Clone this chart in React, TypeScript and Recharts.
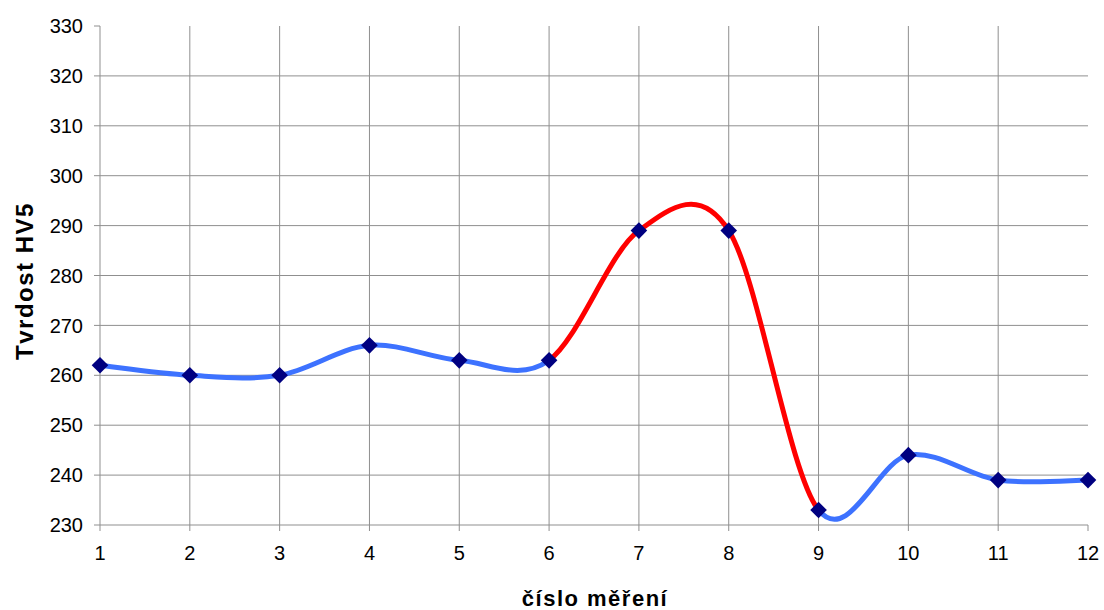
import { CartesianGrid, Label, Line, LineChart, XAxis, YAxis } from 'recharts'

// measured hardness per measurement number
const measurements = [1, 2, 3, 4, 5, 6, 7, 8, 9, 10, 11, 12]
const hardness = [262, 260, 260, 266, 263, 263, 289, 289, 233, 244, 239, 239]
const yTicks = [230, 240, 250, 260, 270, 280, 290, 300, 310, 320, 330]
// part of the curve drawn in red (from measurement .. to measurement)
const highlightFrom = 6
const highlightTo = 9

const data = measurements.map((m, i) => ({ m, hv: hardness[i] }))

const font = '"Liberation Sans", Arial, sans-serif'
const gridColor = '#8f8f8f'

// Excel-like smoothed line (Catmull-Rom as cubic bezier), only drawing the segments that pass the filter
const smoothCurve = (drawSegment: (i: number) => boolean) => (context: any) => {
    let pts: number[][] = []
    return {
        areaStart() {},
        areaEnd() {},
        lineStart() {
            pts = []
        },
        point(x: number, y: number) {
            pts.push([+x, +y])
        },
        lineEnd() {
            const n = pts.length
            let moved = false
            for (let i = 0; i < n - 1; i++) {
                if (!drawSegment(i)) {
                    moved = false
                    continue
                }
                const p0 = pts[Math.max(i - 1, 0)]
                const p1 = pts[i]
                const p2 = pts[i + 1]
                const p3 = pts[Math.min(i + 2, n - 1)]
                if (!moved) {
                    context.moveTo(p1[0], p1[1])
                    moved = true
                }
                context.bezierCurveTo(
                    p1[0] + (p2[0] - p0[0]) / 6,
                    p1[1] + (p2[1] - p0[1]) / 6,
                    p2[0] - (p3[0] - p1[0]) / 6,
                    p2[1] - (p3[1] - p1[1]) / 6,
                    p2[0],
                    p2[1]
                )
            }
        }
    }
}

const inHighlight = (i: number) => measurements[i] >= highlightFrom && measurements[i + 1] <= highlightTo
const blueCurve = smoothCurve((i) => !inHighlight(i))
const redCurve = smoothCurve(inHighlight)

const Diamond = (props: any) => {
    const { cx, cy, index } = props
    const r = 8.3
    return (
        <path
            key={`dot-${index}`}
            d={`M${cx},${cy - r}L${cx + r},${cy}L${cx},${cy + r}L${cx - r},${cy}Z`}
            fill="#000080"
        />
    )
}

export default function App() {
    return (
        <div style={{ position: 'absolute', left: 0, top: 0, background: '#fff' }}>
            <LineChart width={1104} height={610} data={data} margin={{ top: 26, right: 16, left: 0, bottom: 0 }}>
                <CartesianGrid
                    stroke={gridColor}
                    verticalValues={measurements.slice(1, -1)}
                    horizontalValues={yTicks.slice(1, -1)}
                />
                <XAxis
                    dataKey="m"
                    type="number"
                    domain={[1, 12]}
                    ticks={measurements}
                    height={85}
                    tickSize={6}
                    tickMargin={15}
                    axisLine={{ stroke: gridColor }}
                    tickLine={{ stroke: gridColor }}
                    tick={{ fill: '#000', fontSize: 20, fontFamily: font }}
                >
                    <Label
                        content={() => (
                            <text
                                x={595}
                                y={606}
                                textAnchor="middle"
                                fontFamily={font}
                                fontWeight="bold"
                                fontSize={22}
                                letterSpacing={1.5}
                                fill="#000"
                            >
                                číslo měření
                            </text>
                        )}
                    />
                </XAxis>
                <YAxis
                    type="number"
                    domain={[230, 330]}
                    ticks={yTicks}
                    width={100}
                    tickSize={6}
                    tickMargin={11}
                    axisLine={{ stroke: gridColor }}
                    tickLine={{ stroke: gridColor }}
                    tick={{ fill: '#000', fontSize: 20, fontFamily: font }}
                >
                    <Label
                        content={() => (
                            <text
                                x={33}
                                y={281}
                                transform="rotate(-90 33 281)"
                                textAnchor="middle"
                                fontFamily={font}
                                fontWeight="bold"
                                fontSize={24}
                                letterSpacing={1.5}
                                fill="#000"
                            >
                                Tvrdost HV5
                            </text>
                        )}
                    />
                </YAxis>
                <Line
                    dataKey="hv"
                    type={blueCurve as any}
                    stroke="#3d72ff"
                    strokeWidth={5}
                    dot={false}
                    activeDot={false}
                    isAnimationActive={false}
                />
                <Line
                    dataKey="hv"
                    type={redCurve as any}
                    stroke="#ff0000"
                    strokeWidth={5}
                    dot={Diamond}
                    activeDot={false}
                    isAnimationActive={false}
                />
            </LineChart>
        </div>
    )
}
